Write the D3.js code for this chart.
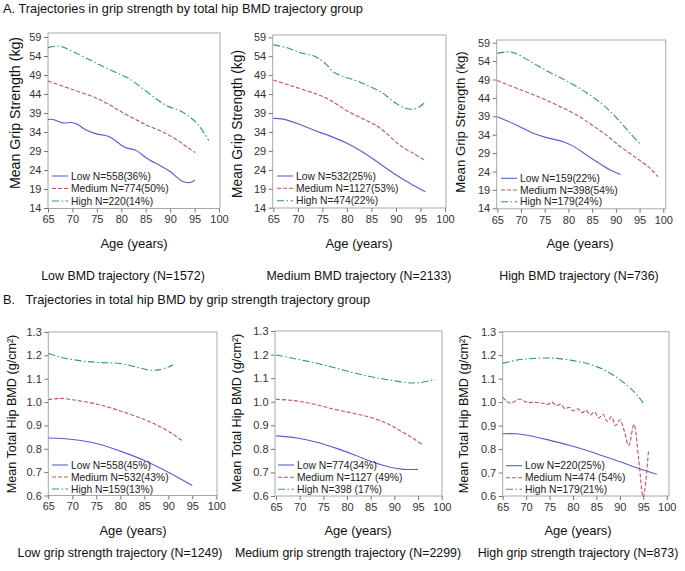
<!DOCTYPE html>
<html><head><meta charset="utf-8">
<script src="https://cdn.jsdelivr.net/npm/d3@7"></script>
<style>
body{margin:0;background:#fff}
svg{display:block;font-family:"Liberation Sans",Arial,sans-serif}
</style>
</head><body>
<svg id="c" width="685" height="571"></svg>
<script>
// ---------------- DATA ----------------
const ageTicks = [65,70,75,80,85,90,95,100];
const gripTicks = [14,19,24,29,34,39,44,49,54,59];
const bmdTicks = [0.6,0.7,0.8,0.9,1.0,1.1,1.2,1.3];
const seriesNames = ["Low","Medium","High"];

// Panel A1: Low BMD trajectory
const a1LowAge = [65,66,68,69.8,70.8,72.8,74.9,77.3,78.6,80.7,83.1,85.2,88,90,92.4,94.1,95.1];
const a1LowVal = [37.3,37.3,36.4,36.5,36.2,34.5,33.5,32.9,31.9,30.0,29.1,27.1,25.1,23.6,21.1,20.7,21.4];
const a1MedAge = [65,70.2,74.9,77.7,79.7,82.5,85.2,88,90.7,93.4,95.1];
const a1MedVal = [47.4,45.1,42.9,41.1,39.5,37.6,35.8,34.3,32.5,30.1,28.6];
const a1HighAge = [65,67.4,70.2,74.9,79.7,81.8,84.5,87.2,89.3,92,94.1,96.1,97.9];
const a1HighVal = [56.2,56.6,55.1,52.1,49.2,47.9,45.3,42.7,40.9,39.6,37.9,35.3,31.8];
const a1Legend = ["Low N=558(36%)","Medium N=774(50%)","High N=220(14%)"];

// Panel A2: Medium BMD trajectory
const a2LowAge = [65,67,69.8,73.2,76.6,80,82.7,86.1,89.5,92.9,96];
const a2LowVal = [37.6,37.4,36.3,34.5,32.9,31.0,29.1,26.2,23.1,20.4,18.2];
const a2MedAge = [65,69.1,73.8,76.6,80,83.4,86.1,88.1,90.8,93.6,96];
const a2MedVal = [47.7,46.0,44.0,42.4,39.6,37.4,35.6,33.6,30.5,28.3,26.4];
const a2HighAge = [65,67.7,70.4,73.2,74.5,75.9,77.2,79.3,82,84.7,87.4,89.5,91.5,93.2,94.6,96];
const a2HighVal = [57.0,56.3,55.0,54.1,53.2,51.7,49.9,48.6,47.5,46.0,44.2,42.0,40.5,40.0,40.5,41.9];
const a2Legend = ["Low N=532(25%)","Medium N=1127(53%)","High N=474(22%)"];

// Panel A3: High BMD trajectory
const a3LowAge = [65,69.1,72.6,75.4,78.9,81,83.8,85.9,88.8,91];
const a3LowVal = [38.9,36.6,34.4,33.2,32.1,30.9,28.5,26.7,24.4,23.2];
const a3MedAge = [65,69.1,73.3,77.5,81.7,85.2,88,90.9,94.4,97.2,98.9];
const a3MedVal = [48.7,46.6,44.5,42.1,39.4,36.4,33.9,30.8,27.6,24.9,22.6];
const a3HighAge = [65,67,68.4,70.5,73.3,76.1,78.9,81.7,84.5,87.3,90.2,93,95.1];
const a3HighVal = [56.1,56.5,56.3,55.0,52.9,50.9,49.1,47.1,44.8,42.1,38.5,34.4,31.5];
const a3Legend = ["Low N=159(22%)","Medium N=398(54%)","High N=179(24%)"];

// Panel B1: Low grip strength trajectory
const b1LowAge = [65,70,75,80,85,90,95];
const b1LowVal = [0.846,0.840,0.823,0.790,0.750,0.700,0.643];
const b1MedAge = [65,67.5,70,75,80,85,88,91,93];
const b1MedVal = [1.010,1.016,1.010,0.992,0.962,0.925,0.898,0.862,0.833];
const b1HighAge = [65,68,72,75,80,83,86,88,90,91];
const b1HighVal = [1.208,1.190,1.176,1.170,1.165,1.152,1.137,1.138,1.150,1.160];
const b1Legend = ["Low N=558(45%)","Medium N=532(43%)","High N=159(13%)"];

// Panel B2: Medium grip strength trajectory
const b2LowAge = [65,69.4,73.6,77.8,82,85.6,89.1,91.9,95];
const b2LowVal = [0.855,0.846,0.828,0.802,0.771,0.743,0.722,0.713,0.713];
const b2MedAge = [65,68.7,72.9,77.1,81.3,84.9,88.4,91.2,93.7,95.8];
const b2MedVal = [1.010,1.005,0.990,0.969,0.951,0.934,0.908,0.877,0.848,0.819];
const b2HighAge = [65,69.4,73.6,77.8,82,85.6,89.1,92.6,95.4,98.6];
const b2HighVal = [1.198,1.181,1.163,1.142,1.120,1.104,1.092,1.081,1.081,1.095];
const b2Legend = ["Low N=774(34%)","Medium N=1127 (49%)","High N=398 (17%)"];

// Panel B3: High grip strength trajectory
const b3LowAge = [65,68,70.8,75.1,79.4,83.6,87.9,92.2,95,97.9];
const b3LowVal = [0.865,0.865,0.857,0.837,0.815,0.790,0.761,0.730,0.711,0.693];
const b3MedAge = [65.0,65.9,66.7,67.7,68.7,69.7,70.7,71.7,72.7,73.6,74.6,75.5,76.4,77.4,78.3,79.2,80.1,81.0,81.9,82.8,83.7,84.6,85.5,86.4,87.3,88.2,89.1,90.0,90.9,91.9,93.0,94.0,95.0,96.1];
const b3MedVal = [1.020,1.003,0.995,1.005,1.013,1.003,0.998,1.000,0.997,0.995,0.990,1.000,0.985,0.990,0.972,0.978,0.962,0.972,0.955,0.965,0.945,0.958,0.932,0.948,0.918,0.938,0.900,0.925,0.880,0.815,0.905,0.760,0.595,0.790];
const b3HighAge = [65,68,70.8,75.1,79.4,83.6,87.2,90,92.9,95];
const b3HighVal = [1.165,1.179,1.185,1.188,1.179,1.161,1.132,1.096,1.047,0.997];
const b3Legend = ["Low N=220(25%)","Medium N=474 (54%)","High N=179(21%)"];

const titleA = "A. Trajectories in grip strength by total hip BMD trajectory group";
const titleB = "B.\u00a0\u00a0 Trajectories in total hip BMD by grip strength trajectory group";
const gripTitle = "Mean Grip Strength (kg)";
const bmdTitle = "Mean Total Hip BMD (g/cm\u00b2)";
const xTitle = "Age (years)";
const subA = ["Low BMD trajectory (N=1572)","Medium BMD trajectory (N=2133)","High BMD trajectory (N=736)"];
const subB = ["Low grip strength trajectory (N=1249)","Medium grip strength trajectory (N=2299)","High grip strength trajectory (N=873)"];

// ---------------- STYLE / LAYOUT ----------------
const colors = {Low:"#5c5cd4", Medium:"#c8505f", High:"#2f9585"};
const dashes = {Low:null, Medium:"4,2", High:"7,2.5,1.5,2.5"};

const panels = [
 {series:[[a1LowAge,a1LowVal],[a1MedAge,a1MedVal],[a1HighAge,a1HighVal]], legend:a1Legend, yTicks:gripTicks, ydom:[14,59], fmt:d3.format("d"), yTitle:gripTitle, sub:subA[0],
  xr:[48,219], fx:[48,220], yr:[208,37], fy:[33,208.5], ytx:15, yty:113, ytf:14.2, lx:52, ly:[176,188.5,201], xt:[134,243], st:[123,276]},
 {series:[[a2LowAge,a2LowVal],[a2MedAge,a2MedVal],[a2HighAge,a2HighVal]], legend:a2Legend, yTicks:gripTicks, ydom:[14,59], fmt:d3.format("d"), yTitle:gripTitle, sub:subA[1],
  xr:[273.3,445], fx:[272.7,446], yr:[207.7,37.3], fy:[35,208], ytx:237, yty:124, ytf:13.8, lx:277, ly:[176,188.3,200.7], xt:[359,243], st:[359,276]},
 {series:[[a3LowAge,a3LowVal],[a3MedAge,a3MedVal],[a3HighAge,a3HighVal]], legend:a3Legend, yTicks:gripTicks, ydom:[14,59], fmt:d3.format("d"), yTitle:gripTitle, sub:subA[2],
  xr:[497.3,663.3], fx:[496.7,665.7], yr:[208.3,42.7], fy:[40,208.8], ytx:460, yty:122, ytf:13.2, lx:501, ly:[178.3,190,201.7], xt:[580,243], st:[579,276]},
 {series:[[b1LowAge,b1LowVal],[b1MedAge,b1MedVal],[b1HighAge,b1HighVal]], legend:b1Legend, yTicks:bmdTicks, ydom:[0.6,1.3], fmt:d3.format(".1f"), yTitle:bmdTitle, sub:subB[0],
  xr:[48.3,216.3], fx:[48.3,217], yr:[495.5,332], fy:[332,495.5], ytx:12, yty:414, ytf:12.6, lx:52, ly:[465,477,489], xt:[133,530], st:[120,553]},
 {series:[[b2LowAge,b2LowVal],[b2MedAge,b2MedVal],[b2HighAge,b2HighVal]], legend:b2Legend, yTicks:bmdTicks, ydom:[0.6,1.3], fmt:d3.format(".1f"), yTitle:bmdTitle, sub:subB[1],
  xr:[276,441.7], fx:[275,442], yr:[496,331], fy:[331,496], ytx:237, yty:413, ytf:12.6, lx:278, ly:[465,477.3,489.3], xt:[358,530], st:[348,553]},
 {series:[[b3LowAge,b3LowVal],[b3MedAge,b3MedVal],[b3HighAge,b3HighVal]], legend:b3Legend, yTicks:bmdTicks, ydom:[0.6,1.3], fmt:d3.format(".1f"), yTitle:bmdTitle, sub:subB[2],
  xr:[502.7,666.7], fx:[502.7,669], yr:[496,331.7], fy:[331.7,496], ytx:463.5, yty:414, ytf:12.6, lx:506, ly:[465.7,477.7,489.3], xt:[578,530], st:[578,553]}
];

// ---------------- DRAW ----------------
const svg = d3.select("#c");
svg.append("rect").attr("width",685).attr("height",571).attr("fill","#fff");

svg.append("text").attr("x",3).attr("y",12.5).attr("font-size",12.8).attr("fill","#111").text(titleA);
svg.append("text").attr("x",3).attr("y",304).attr("font-size",12.8).attr("fill","#111").text(titleB);

panels.forEach(p => {
  const g = svg.append("g");
  const x = d3.scaleLinear().domain([65,100]).range(p.xr);
  const y = d3.scaleLinear().domain(p.ydom).range(p.yr);

  g.append("rect").attr("x",p.fx[0]).attr("y",p.fy[0])
    .attr("width",p.fx[1]-p.fx[0]).attr("height",p.fy[1]-p.fy[0])
    .attr("fill","none").attr("stroke","#a8a8a8").attr("stroke-width",1);

  const ax = g.append("g").attr("transform",`translate(0,${p.fy[1]})`)
    .call(d3.axisBottom(x).tickValues(ageTicks).tickSize(4).tickPadding(3).tickFormat(d3.format("d")));
  const ay = g.append("g").attr("transform",`translate(${p.fx[0]},0)`)
    .call(d3.axisLeft(y).tickValues(p.yTicks).tickSize(4).tickPadding(2.5).tickFormat(p.fmt));
  [ax,ay].forEach(a=>{
    a.select(".domain").remove();
    a.selectAll("line").attr("stroke","#777");
    a.selectAll("text").attr("font-size",11).attr("fill","#333")
      .attr("font-family",'"Liberation Sans",Arial,sans-serif');
  });

  const line = d3.line().x(d=>x(d[0])).y(d=>y(d[1])).curve(d3.curveCatmullRom.alpha(0.5));
  p.series.forEach((s,i) => {
    const name = seriesNames[i];
    const pts = s[0].map((a,k)=>[a,s[1][k]]);
    g.append("path").datum(pts).attr("d",line)
      .attr("fill","none").attr("stroke",colors[name]).attr("stroke-width",1.1)
      .attr("stroke-dasharray",dashes[name]);
  });

  p.legend.forEach((lab,i)=>{
    const name = seriesNames[i];
    g.append("line").attr("x1",p.lx).attr("x2",p.lx+16).attr("y1",p.ly[i]).attr("y2",p.ly[i])
      .attr("stroke",colors[name]).attr("stroke-width",1.1).attr("stroke-dasharray",dashes[name]);
    g.append("text").attr("x",p.lx+19).attr("y",p.ly[i]).attr("dy","0.35em")
      .attr("font-size",10.3).attr("fill","#222").text(lab);
  });

  g.append("text").attr("transform",`translate(${p.ytx},${p.yty}) rotate(-90)`)
    .attr("text-anchor","middle").attr("dy","0.35em").attr("font-size",p.ytf).attr("fill","#111").text(p.yTitle);
  g.append("text").attr("x",p.xt[0]).attr("y",p.xt[1]).attr("dy","0.35em")
    .attr("text-anchor","middle").attr("font-size",13).attr("fill","#111").text(xTitle);
  g.append("text").attr("x",p.st[0]).attr("y",p.st[1]).attr("dy","0.35em")
    .attr("text-anchor","middle").attr("font-size",12.4).attr("fill","#111").text(p.sub);
});
</script>
</body></html>
